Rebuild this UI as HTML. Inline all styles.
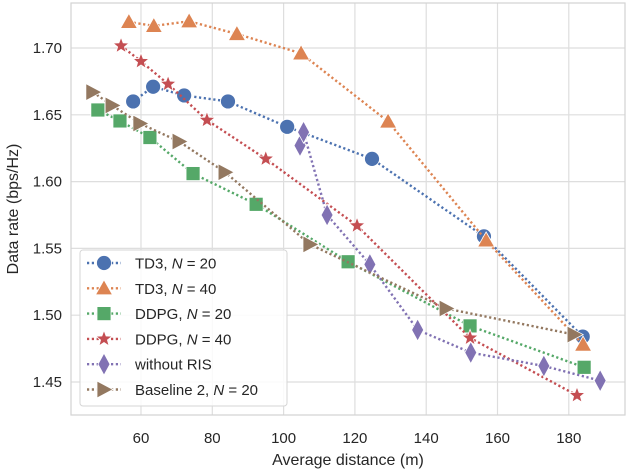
<!DOCTYPE html>
<html><head><meta charset="utf-8"><style>
body{margin:0;background:#fff;}
svg text{font-family:"Liberation Sans",sans-serif;fill:#262626;}
</style></head><body>
<svg id="chart" width="628" height="470" xmlns="http://www.w3.org/2000/svg">
<g id="grid"></g>
<rect x="71" y="3" width="554" height="412" fill="none" stroke="#d3d3d3" stroke-width="1.2"/>
<g id="ticks"></g>
<text x="348" y="465" font-size="16" text-anchor="middle">Average distance (m)</text>
<text transform="translate(18,209) rotate(-90)" font-size="16" text-anchor="middle">Data rate (bps/Hz)</text>
<g id="series"></g>
<g id="legend"></g>
</svg>
<script>
const xTicks=[60,80,100,120,140,160,180];
const yTicks=[1.45,1.50,1.55,1.60,1.65,1.70];
const seriesNames=["TD3, N = 20","TD3, N = 40","DDPG, N = 20","DDPG, N = 40","without RIS","Baseline 2, N = 20"];
const td3n20X=[57.8,63.4,72.1,84.4,101,124.8,156.2,183.9];
const td3n20Y=[1.660,1.671,1.6645,1.660,1.641,1.617,1.559,1.484];
const td3n40X=[56.6,63.6,73.5,86.9,104.9,129.3,156.8,184];
const td3n40Y=[1.7195,1.7165,1.720,1.7105,1.696,1.645,1.556,1.478];
const ddpgn20X=[47.9,54.1,62.5,74.6,92.3,118.1,152.3,184.3];
const ddpgn20Y=[1.6536,1.6454,1.633,1.606,1.583,1.540,1.492,1.461];
const ddpgn40X=[54.4,60,67.6,78.5,95,120.6,152.3,182.3];
const ddpgn40Y=[1.7017,1.690,1.673,1.646,1.617,1.567,1.483,1.440];
const noRisX=[104.6,105.6,112.2,124.2,137.6,152.5,173,188.8];
const noRisY=[1.627,1.637,1.575,1.538,1.489,1.472,1.462,1.451];
const base2X=[46.5,51.9,59.7,70.7,83.6,107.4,145.6,181.5];
const base2Y=[1.667,1.657,1.6435,1.630,1.607,1.553,1.505,1.4855];

const NS="http://www.w3.org/2000/svg";
const X0=71,X1=625,Y0=3,Y1=415;
function sx(v){return 141+(v-60)*3.565;}
function sy(v){return 48+(1.70-v)*1336;}
function el(tag,attrs,parent){const e=document.createElementNS(NS,tag);for(const k in attrs)e.setAttribute(k,attrs[k]);parent.appendChild(e);return e;}
const grid=document.getElementById('grid'),ticks=document.getElementById('ticks');
xTicks.forEach(v=>{
  const l=el('line',{x1:sx(v),x2:sx(v),y1:Y0,y2:Y1,stroke:'#dedede','stroke-width':1.2},grid);
  
  
  const t=el('text',{x:sx(v),y:443,'font-size':15,'text-anchor':'middle'},ticks);
  t.textContent=v;
  
  
});
yTicks.forEach(v=>{
  const l=el('line',{x1:X0,x2:X1,y1:sy(v),y2:sy(v),stroke:'#dedede','stroke-width':1.2},grid);
  
  
  const t=el('text',{x:62,y:sy(v)+5,'font-size':15,'text-anchor':'end'},ticks);
  t.textContent=v.toFixed(2);
  
  
});
const colors=['#4c72b0','#dd8452','#55a868','#c44e52','#8172b3','#937860'];
const shapes=['circle','triangle','square','star','diamond','tri-right'];
function marker(shape,cx,cy,color,parent,s){
  s=s||1;let e;
  if(shape==='circle')e=el('circle',{cx:cx,cy:cy,r:7.5*s},parent);
  else if(shape==='square')e=el('rect',{x:cx-7*s,y:cy-7*s,width:14*s,height:14*s},parent);
  else{
    let pts;
    if(shape==='triangle')pts=[[0,-8.5],[8.5,6.5],[-8.5,6.5]];
    else if(shape==='tri-right')pts=[[-7,-8.5],[9,0],[-7,8.5]];
    else if(shape==='diamond')pts=[[0,-11],[6,0],[0,11],[-6,0]];
    else{pts=[];for(let i=0;i<10;i++){const r=i%2?3.6:8.5,a=-Math.PI/2+i*Math.PI/5;pts.push([r*Math.cos(a),r*Math.sin(a)]);}}
    e=el('polygon',{points:pts.map(p=>(cx+p[0]*s)+','+(cy+p[1]*s)).join(' ')},parent);
  }
  e.setAttribute('fill',color);e.setAttribute('stroke','#fff');e.setAttribute('stroke-width',0.8);
  return e;
}
const allX=[td3n20X,td3n40X,ddpgn20X,ddpgn40X,noRisX,base2X];
const allY=[td3n20Y,td3n40Y,ddpgn20Y,ddpgn40Y,noRisY,base2Y];
const seriesG=document.getElementById('series');
allX.forEach((xs,i)=>{
  const g=el('g',{},seriesG);
  
  
  const ln=el('polyline',{points:xs.map((x,j)=>sx(x)+','+sy(allY[i][j])).join(' '),fill:'none',stroke:colors[i],'stroke-width':2.4,'stroke-dasharray':'2.2 2.6','stroke-linecap':'butt'},g);
  
  
  xs.forEach((x,j)=>{
    const m=marker(shapes[i],sx(x),sy(allY[i][j]),colors[i],g);
    
    
  });
});
const lg=document.getElementById('legend');
el('rect',{x:80,y:250,width:207,height:156,rx:3,fill:'#fff','fill-opacity':0.85,stroke:'#d6d6d6'},lg);
seriesNames.forEach((n,i)=>{
  const y=263+i*25.3;
  const g=el('g',{},lg);
  
  
  el('line',{x1:87,x2:121,y1:y,y2:y,stroke:colors[i],'stroke-width':2.4,'stroke-dasharray':'2.2 2.6'},g);
  marker(shapes[i],104,y,colors[i],g);
  const t=el('text',{x:135,y:y+5.5,'font-size':15},g);
  const m=n.match(/^(.*)N( = .*)$/);
  if(m){t.appendChild(document.createTextNode(m[1]));const it=el('tspan',{'font-style':'italic'},t);it.textContent='N';t.appendChild(document.createTextNode(m[2]));}
  else t.textContent=n;
});
</script>
</body></html>
